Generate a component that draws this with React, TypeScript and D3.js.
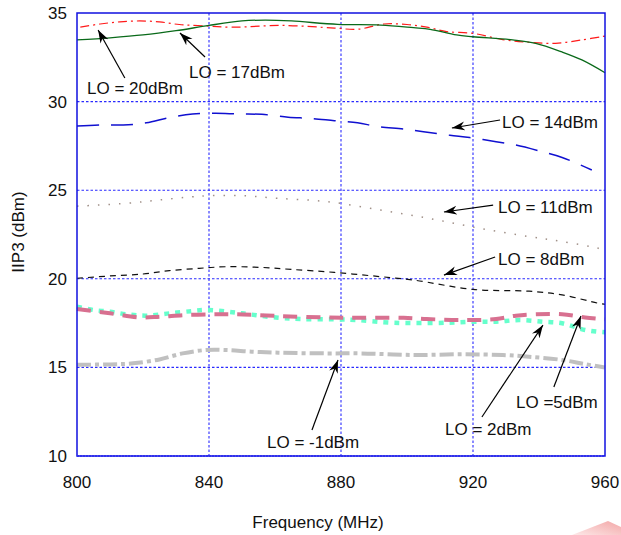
import React from "react";
import * as d3 from "d3";

// ---- data ----
const freqTicks = [800, 840, 880, 920, 960];
const iip3Ticks = [10, 15, 20, 25, 30, 35];

const lo20F = [801, 807, 813, 819, 825, 831, 838, 847, 862, 878, 885, 893, 900, 906, 912, 920, 929, 937, 945, 953, 960];
const lo20V = [34.2, 34.38, 34.5, 34.55, 34.5, 34.35, 34.28, 34.2, 34.3, 34.15, 34.08, 34.38, 34.35, 34.2, 33.95, 33.85, 33.5, 33.35, 33.29, 33.48, 33.7];

const lo17F = [800, 810, 820, 830, 840, 850, 857, 865, 879, 892, 902, 907, 915, 920, 932, 939, 947, 953, 960];
const lo17V = [33.48, 33.6, 33.76, 34.0, 34.3, 34.55, 34.6, 34.55, 34.36, 34.32, 34.17, 34.08, 33.76, 33.66, 33.48, 33.29, 32.8, 32.35, 31.63];

const lo14F = [800, 807, 814, 821, 828, 835, 842, 849, 856, 864, 871, 878, 885, 891, 899, 905, 913, 919, 927, 933, 941, 947, 956];
const lo14V = [28.62, 28.68, 28.68, 28.8, 29.1, 29.3, 29.34, 29.3, 29.28, 29.12, 29.05, 28.92, 28.8, 28.6, 28.45, 28.3, 28.1, 27.97, 27.74, 27.55, 27.17, 26.85, 26.14];

const lo11F = [800, 815, 825, 835, 840, 850, 861, 876, 892, 907, 922, 937, 947, 958, 960];
const lo11V = [24.1, 24.26, 24.45, 24.63, 24.69, 24.69, 24.54, 24.35, 23.88, 23.4, 22.85, 22.38, 22.1, 21.72, 21.6];

const lo8F = [800, 810, 820, 828, 837, 845, 855, 865, 878, 892, 902, 920, 937, 947, 958, 960];
const lo8V = [20.03, 20.16, 20.27, 20.46, 20.59, 20.68, 20.65, 20.53, 20.36, 20.12, 19.93, 19.4, 19.3, 19.09, 18.62, 18.56];

const lo5F = [800, 810, 819, 825, 833, 842, 848, 861, 876, 885, 899, 906, 917, 927, 933, 939, 947, 954, 960];
const lo5V = [18.3, 18.05, 17.82, 17.86, 17.96, 18.0, 18.0, 17.9, 17.82, 17.8, 17.8, 17.73, 17.67, 17.73, 17.92, 18.0, 18.0, 17.82, 17.71];

const lo2F = [800, 805, 810, 815, 821, 828, 835, 839, 846, 850, 861, 868, 878, 885, 896, 912, 920, 927, 934, 941, 947, 954, 960];
const lo2V = [18.42, 18.24, 18.14, 18.0, 17.92, 18.05, 18.18, 18.24, 18.14, 18.05, 17.8, 17.73, 17.71, 17.67, 17.52, 17.52, 17.58, 17.58, 17.67, 17.58, 17.49, 17.11, 16.98];

const loM1F = [800, 810, 817, 825, 832, 839, 845, 853, 861, 876, 886, 902, 917, 929, 937, 947, 954, 960];
const loM1V = [15.15, 15.17, 15.23, 15.45, 15.79, 15.98, 15.98, 15.89, 15.83, 15.79, 15.79, 15.7, 15.74, 15.7, 15.6, 15.42, 15.18, 15.0];

const labels = ["LO = 20dBm", "LO = 17dBm", "LO = 14dBm", "LO = 11dBm", "LO = 8dBm", "LO = -1dBm", "LO = 2dBm", "LO =5dBm"];
// arrow tail / tip in data units (MHz, dBm)
const tailF = [814.5, 838.8, 928.2, 926.1, 926.7, 871.2, 922.7, 944.5];
const tailV = [31.33, 32.52, 28.96, 24.16, 21.23, 11.47, 12.2, 13.89];
const tipF = [806.4, 831.2, 913.6, 911.2, 911.2, 879.1, 941.2, 952.7];
const tipV = [34.04, 33.87, 28.51, 23.77, 20.21, 15.42, 17.39, 17.9];

// ---- layout ----
const W = 621, H = 535;
const M = { left: 77, right: 605, top: 13, bottom: 456 };
const labelPos = [
  [87, 88], [189, 72], [502, 122], [498, 207], [498, 259], [267, 442], [445, 429], [516, 402],
];

const seriesStyle = [
  { f: lo20F, v: lo20V, color: "#ff1a1a", w: 1.2, dash: "9,4,2,4" },
  { f: lo17F, v: lo17V, color: "#0a6a1a", w: 1.3, dash: null },
  { f: lo14F, v: lo14V, color: "#1010d0", w: 1.5, dash: "22,12" },
  { f: lo11F, v: lo11V, color: "#a09088", w: 1.5, dash: "1.5,9" },
  { f: lo8F, v: lo8V, color: "#111111", w: 1.2, dash: "6,5" },
  { f: loM1F, v: loM1V, color: "#c0c0c0", w: 4, dash: "14,4,4,4" },
  { f: lo2F, v: lo2V, color: "#66ffcc", w: 4.5, dash: "5,6" },
  { f: lo5F, v: lo5V, color: "#d87090", w: 4, dash: "14,9" },
];

export default function App() {
  const x = d3.scaleLinear().domain([800, 960]).range([M.left, M.right]);
  const y = d3.scaleLinear().domain([10, 35]).range([M.bottom, M.top]);
  const line = d3
    .line<[number, number]>()
    .x((d) => x(d[0]))
    .y((d) => y(d[1]))
    .curve(d3.curveCatmullRom.alpha(0.5));

  const font = "'Liberation Sans', Arial, sans-serif";
  const gridColor = "#2a2aff";

  return (
    <svg
      width={W}
      height={H}
      style={{ position: "absolute", left: 0, top: 0, background: "#fff" }}
      fontFamily={font}
    >
      <defs>
        <marker id="ah" viewBox="-13 -5 14 10" markerWidth={14} markerHeight={10} refX={0} refY={0} orient="auto" markerUnits="userSpaceOnUse">
          <path d="M0,0 L-13,-4.5 L-9,0 L-13,4.5 Z" fill="#000" />
        </marker>
        <linearGradient id="wm" x1="0" y1="1" x2="1" y2="0">
          <stop offset="0" stopColor="#fde8e8" />
          <stop offset="1" stopColor="#f3a8a8" />
        </linearGradient>
      </defs>
      <rect width={W} height={H} fill="#fff" />
      {/* watermark corner */}
      <polygon points="572,535 608,521 621,527 621,535" fill="url(#wm)" />

      {/* grid */}
      {freqTicks.slice(1, -1).map((t) => (
        <line key={"gx" + t} x1={x(t)} x2={x(t)} y1={M.top} y2={M.bottom} stroke={gridColor} strokeWidth={1.1} strokeDasharray="2.5,2" />
      ))}
      {iip3Ticks.slice(1, -1).map((t) => (
        <line key={"gy" + t} x1={M.left} x2={M.right} y1={y(t)} y2={y(t)} stroke={gridColor} strokeWidth={1.1} strokeDasharray="2.5,2" />
      ))}

      {/* series */}
      {seriesStyle.map((s, i) => (
        <path
          key={"s" + i}
          d={line(s.f.map((f, j) => [f, s.v[j]] as [number, number])) || ""}
          fill="none"
          stroke={s.color}
          strokeWidth={s.w}
          strokeDasharray={s.dash || undefined}
        />
      ))}

      {/* frame */}
      <rect x={M.left} y={M.top} width={M.right - M.left} height={M.bottom - M.top} fill="none" stroke="#1010e0" strokeWidth={1.5} />
      <line x1={M.left} x2={M.right} y1={M.bottom} y2={M.bottom} stroke="#3030ee" strokeWidth={2} strokeDasharray="2,1" />

      {/* tick labels */}
      {iip3Ticks.map((t) => (
        <text key={"yl" + t} x={M.left - 10} y={y(t)} dy="0.35em" textAnchor="end" fontSize={17} fill="#111">
          {t}
        </text>
      ))}
      {freqTicks.map((t) => (
        <text key={"xl" + t} x={x(t)} y={M.bottom + 26} dy="0.35em" textAnchor="middle" fontSize={17} fill="#111">
          {t}
        </text>
      ))}
      <text x={(M.left + M.right) / 2 - 23} y={522} dy="0.35em" textAnchor="middle" fontSize={17} fill="#111">
        Frequency (MHz)
      </text>
      <text transform={`translate(18,232) rotate(-90)`} dy="0.35em" textAnchor="middle" fontSize={17} fill="#111">
        IIP3 (dBm)
      </text>

      {/* annotations */}
      {labels.map((lab, i) => (
        <g key={"a" + i}>
          <line
            x1={x(tailF[i])}
            y1={y(tailV[i])}
            x2={x(tipF[i])}
            y2={y(tipV[i])}
            stroke="#000"
            strokeWidth={1.2}
            markerEnd="url(#ah)"
          />
          <text x={labelPos[i][0]} y={labelPos[i][1]} dy="0.35em" fontSize={17} fill="#111">
            {lab}
          </text>
        </g>
      ))}
    </svg>
  );
}
